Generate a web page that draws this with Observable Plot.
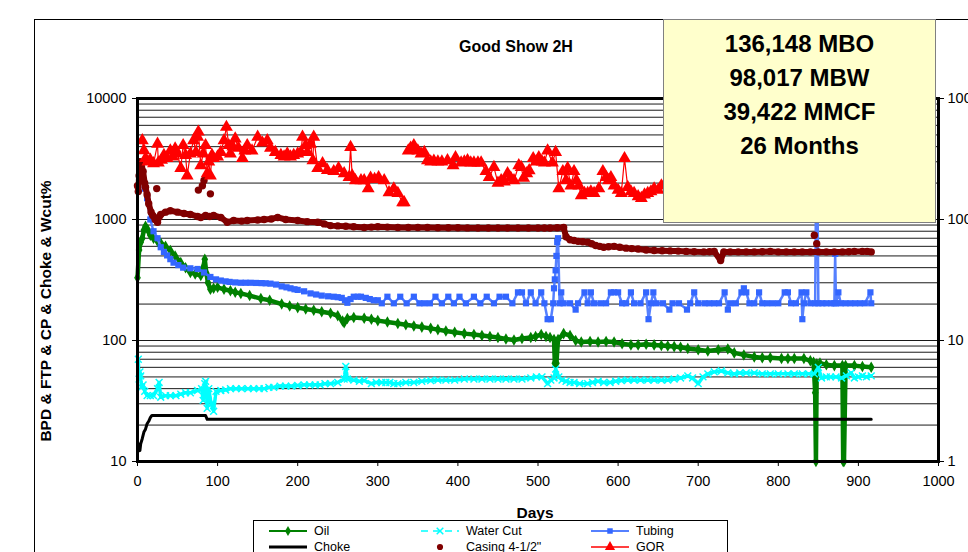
<!DOCTYPE html>
<html><head><meta charset="utf-8">
<script src="https://cdn.jsdelivr.net/npm/d3@7"></script>
<script src="https://cdn.jsdelivr.net/npm/@observablehq/plot@0.6"></script>
<style>
body{margin:0;background:#fff;font-family:"Liberation Sans",Arial,sans-serif;}
#wrap{position:relative;width:968px;height:552px;overflow:hidden;background:#fff;}
#outer{position:absolute;left:34px;top:19px;width:1000px;height:600px;border:1px solid #000;box-sizing:border-box;}
#chart{position:absolute;left:0;top:0;}
.t{position:absolute;font-weight:bold;color:#000;white-space:nowrap;transform:translate(-50%,-50%);}
#box{position:absolute;left:663px;top:19px;width:273px;height:204px;background:#FFFFCC;border:1px solid #808080;box-sizing:border-box;}
#box div{position:absolute;left:50%;transform:translate(-50%,-50%);font-weight:bold;font-size:24px;white-space:nowrap;}
#legend{position:absolute;left:253px;top:520px;width:475px;height:50px;border:1px solid #000;background:#fff;box-sizing:border-box;}
</style></head><body>
<div id="wrap">
<div id="outer"></div>
<div id="chart"></div>
<div class="t" style="left:516px;top:47px;font-size:16px;">Good Show 2H</div>
<div class="t" style="left:535px;top:513px;font-size:15.5px;">Days</div>
<div class="t" style="left:46px;top:311px;font-size:15.5px;transform:translate(-50%,-50%) rotate(-90deg);">BPD &amp; FTP &amp; CP &amp; Choke &amp; Wcut%</div>
<div id="box"></div>
<div id="legend"></div>
</div>
<script>
// ---- data: [day, value] ----
const boxLines = ["136,148 MBO", "98,017 MBW", "39,422 MMCF", "26 Months"];
const yMajor = [10, 100, 1000, 10000];
const yGrid = [20,30,40,50,60,70,80,90,100,200,300,400,500,600,700,800,900,1000,2000,3000,4000,5000,6000,7000,8000,9000];
const xTicks = [0,100,200,300,400,500,600,700,800,900,1000];

const oil = [[0,330],[2,560],[4,650],[6,700],[8,820],[10,880],[13,820],[16,740],[20,700],[25,660],[29,640],[35,600],[41,555],[47,500],[54,440],[60,400],[66,365],[72,355],[79,344],[82,400],[84,470],[86,360],[88,300],[91,265],[95,270],[100,275],[108,265],[116,258],[122,250],[129,245],[140,235],[154,222],[165,215],[180,200],[190,193],[200,187],[210,182],[220,178],[230,173],[241,168],[250,160],[256,145],[258,140],[262,152],[270,155],[283,153],[292,150],[300,146],[312,142],[325,138],[335,135],[345,132],[355,129],[366,126],[375,123],[385,120],[396,117],[408,114],[420,112],[430,110],[440,108],[450,106],[460,103],[470,101],[480,104],[491,106],[497,108],[504,112],[510,108],[515,106],[520,102],[521,65],[523,65],[525,102],[532,114],[540,110],[547,100],[554,97],[565,98],[575,97],[585,98],[595,97],[605,94],[616,92],[625,92],[635,93],[645,92],[654,91],[662,90],[670,89],[678,88],[687,86],[700,84],[712,82],[725,84],[737,85],[745,79],[757,76],[770,73],[780,72],[790,72],[804,71],[812,71],[820,71],[832,71],[840,68],[844,66],[846,37],[847,10],[848,64],[852,65],[860,63],[870,62],[880,62],[881,10],[882,10],[884,62],[895,62],[905,61],[916,60]];

const waterCut = [[1,70],[2,48],[3,55],[4,51],[5,41],[7,43],[9,38],[12,35],[16,35],[20,35],[25,40],[27,45],[29,34],[35,35],[41,35],[48,35],[54,36],[60,37],[66,37],[75,38.6],[80,40],[82,32],[84,44],[85,46],[86,38],[87,27.5],[89,40],[92,30],[95,26],[98,38],[104,38.6],[110,39],[116,40],[123,40],[130,40],[138,40],[145,40],[152,40],[158,40],[164,41],[170,41],[178,42],[185,42],[192,42],[200,42.5],[208,43],[215,43],[222,43],[228,43],[234,44],[241,44],[250,45],[258,48],[260,61],[262,48],[270,47],[277,46],[283,46.7],[292,44],[298,45],[305,45],[310,45],[315,45],[320,44],[325,44],[335,45],[345,45],[355,46],[366,46.7],[375,47],[385,47],[396,47],[408,48],[420,48],[430,48],[440,48],[450,48],[460,48],[470,48],[480,48],[491,49],[498,50],[505,50],[512,44],[516,47],[520,49],[522,58],[526,50],[530,47],[535,46],[540,45],[545,45],[552,44],[562,44],[568,45],[575,46],[582,45],[590,45],[597,46],[604,46.7],[612,47],[620,47],[628,47],[637,47],[645,47],[654,47],[662,47],[670,48],[678,49],[687,51],[693,49],[700,44],[706,50],[712,53],[720,55],[729,56],[737,54],[745,53],[752,54],[760,54],[770,54],[780,53],[790,53],[800,53],[812,53],[820,53],[830,53],[838,53],[845,53],[850,60],[854,49],[860,50],[865,50],[872,50],[879,49],[885,51],[891,54],[895,49],[900,50],[905,51],[910,50],[916,51]];

const tubing = [[6,2500],[9,1800],[12,1500],[16,1000],[20,800],[25,700],[29,590],[33,540],[37,505],[41,470],[45,440],[51,420],[57,400],[66,395],[75,390],[83,365],[91,335],[98,320],[104,313],[110,308],[115,305],[122,302],[129,300],[135,300],[141,300],[148,299],[155,298],[160,297],[166,295],[173,290],[180,280],[186,275],[191,270],[196,265],[200,262],[208,255],[216,245],[223,240],[230,235],[238,232],[245,230],[250,228],[255,225],[259,215],[262,205],[266,220],[270,230],[275,230],[279,230],[285,225],[290,220],[295,215],[300,215],[305,203],[312,230],[320,203],[328,230],[336,203],[345,230],[352,203],[358,203],[365,203],[372,230],[380,203],[388,230],[395,203],[402,230],[410,203],[420,230],[428,203],[436,230],[445,203],[452,230],[460,230],[468,203],[475,250],[480,250],[485,203],[491,250],[497,203],[504,250],[508,203],[512,150],[516,150],[519,203],[520,270],[521,320],[522,380],[523,500],[524,650],[525,700],[527,203],[529,250],[532,203],[540,203],[547,180],[550,203],[558,250],[562,203],[566,250],[570,203],[578,203],[585,203],[591,250],[595,250],[600,250],[605,203],[610,203],[616,250],[620,203],[628,203],[635,250],[638,150],[641,203],[644,250],[648,203],[656,203],[664,180],[668,203],[676,203],[686,180],[690,203],[695,250],[700,203],[708,203],[714,203],[720,203],[726,203],[733,250],[737,180],[740,203],[747,203],[754,250],[757,270],[760,250],[764,203],[770,203],[776,250],[780,203],[786,203],[793,203],[800,203],[808,250],[812,250],[816,203],[822,203],[829,250],[830,150],[832,203],[835,250],[840,203],[846,203],[847,1400],[849,1400],[850,203],[855,203],[860,203],[866,203],[870,203],[871,520],[872,203],[875,250],[878,203],[884,203],[890,203],[896,203],[902,203],[908,203],[915,250],[916,203]];

const choke = [[1,14],[3,12.3],[4,14],[6,15.5],[8,17.5],[10,18.5],[12,20.5],[14,21.5],[16,23],[18,24],[85,24],[87,22.3],[916,22.3]];

const casing = [[0,1900],[1,1700],[2,2300],[3,3000],[5,2700],[7,2500],[9,2000],[10,1850],[12,1600],[14,1350],[17,1150],[19,1080],[22,1000],[25,950],[27,1050],[29,1100],[35,1150],[41,1180],[50,1150],[58,1120],[66,1100],[75,1060],[79,1040],[85,1080],[90,1060],[95,1080],[104,1040],[112,950],[120,980],[130,970],[137,980],[150,990],[158,1000],[167,1010],[175,1040],[185,1000],[200,980],[212,960],[225,950],[233,920],[241,890],[250,885],[260,880],[270,870],[283,860],[292,865],[300,870],[312,865],[325,860],[338,860],[350,860],[362,858],[375,855],[388,855],[400,855],[412,852],[425,850],[438,850],[450,850],[462,850],[475,850],[488,850],[500,850],[508,850],[515,850],[524,855],[532,860],[535,720],[540,680],[545,670],[550,660],[556,655],[562,650],[567,630],[572,610],[577,600],[582,590],[588,595],[595,600],[602,590],[610,580],[617,575],[625,570],[635,560],[645,555],[655,552],[665,550],[675,548],[685,545],[695,542],[707,540],[714,542],[720,545],[728,458],[732,540],[740,540],[750,540],[760,540],[770,540],[780,542],[790,545],[800,540],[810,540],[820,540],[830,540],[840,540],[850,540],[860,540],[870,540],[880,540],[888,542],[895,545],[905,545],[911,545],[916,540]];
const casingOutliers = [[24,1800],[76,1750],[81,1900],[83,2100],[91,1630],[845,740],[848,630]];

const gor = [[6,4500],[8,3720],[10,3200],[13,3000],[16,3100],[20,2900],[25,4200],[26,2950],[30,3100],[33,3400],[37,3200],[41,3700],[44,3300],[47,3850],[50,3500],[54,2650],[57,4100],[60,3400],[62,2300],[66,3500],[70,4500],[73,3600],[75,4800],[76,5300],[79,2800],[82,3500],[85,4100],[87,2400],[89,3000],[91,2300],[93,3400],[95,3200],[100,3300],[104,3600],[108,4500],[111,5800],[114,4100],[116,3500],[119,4000],[122,4650],[126,3900],[131,3200],[134,3700],[137,4100],[143,3700],[150,4800],[156,4300],[162,4500],[166,3900],[172,3600],[179,3400],[183,3300],[187,3500],[191,3300],[195,3400],[200,3500],[204,3600],[206,4800],[210,4100],[212,3600],[216,4200],[219,3070],[220,4800],[225,2650],[231,2900],[237,2550],[245,2500],[251,2650],[258,2400],[264,2230],[266,3950],[268,2300],[272,2100],[279,2100],[283,2100],[288,1800],[291,2200],[296,2150],[301,2230],[308,2100],[314,1670],[320,1800],[325,1650],[331,1380],[333,1380],[335,null],[338,3700],[341,3900],[345,4100],[350,3700],[354,3500],[358,3600],[362,3070],[366,3000],[370,3050],[375,3000],[380,3000],[387,3070],[394,2800],[397,3250],[404,2950],[408,3000],[412,3070],[416,2950],[420,2950],[425,2950],[429,2950],[435,2500],[439,2230],[445,2700],[450,2000],[454,2100],[458,2050],[462,2400],[466,2200],[470,2100],[476,2800],[479,2700],[482,2200],[486,2400],[489,2540],[494,3200],[498,3000],[501,3250],[505,3000],[508,2950],[512,3700],[518,2950],[522,3600],[526,1800],[531,2500],[535,2100],[537,2650],[541,1900],[545,2500],[548,2100],[551,1900],[554,1580],[558,1650],[562,1650],[566,1700],[570,1650],[576,1800],[581,2500],[585,2230],[588,2100],[591,2230],[595,1900],[600,1750],[604,1650],[608,3200],[612,1850],[616,1700],[620,1650],[625,1550],[629,1500],[633,1600],[637,1650],[641,1700],[645,1800],[650,1750],[654,1900],[658,1950],[665,1900],[680,1800],[700,1800]];

// ---- build ----
const rows = a => a.map(([d, v]) => ({d, v}));
const C = {oil:"#008000", wc:"#00FFFF", tub:"#3366FF", tubLine:"#5580FF", choke:"#000000", cas:"#800000", gor:"#FF0000"};

const chart = Plot.plot({
  width: 968, height: 552,
  marginLeft: 137, marginRight: 30, marginTop: 98, marginBottom: 91,
  x: {domain: [0, 1000]},
  y: {type: "log", domain: [10, 10000]},
  style: {fontFamily: "Liberation Sans, Arial, sans-serif", fontSize: "14.5px", color: "#000", background: "transparent"},
  marks: [
    Plot.ruleY(yGrid, {stroke: "#000", strokeWidth: 1, strokeOpacity: 0.9}),
    // Oil
    Plot.line(rows(oil), {x: "d", y: "v", stroke: C.oil, strokeWidth: 4.5, strokeLinejoin: "round"}),
    Plot.dot(rows(oil), {x: "d", y: "v", symbol: "diamond", fill: C.oil, r: 3.5}),
    // Water cut
    Plot.line(rows(waterCut), {x: "d", y: "v", stroke: C.wc, strokeWidth: 3.5, strokeDasharray: "3,1.5"}),
    Plot.dot(rows(waterCut), {x: "d", y: "v", symbol: "times", stroke: C.wc, strokeWidth: 1.5, r: 3.2}),
    // Tubing
    Plot.line(rows(tubing), {x: "d", y: "v", stroke: C.tubLine, strokeWidth: 2.5}),
    Plot.dot(rows(tubing), {x: "d", y: "v", symbol: "square", fill: C.tub, r: 3.5}),
    // Choke
    Plot.line(rows(choke), {x: "d", y: "v", stroke: C.choke, strokeWidth: 3}),
    // Casing
    Plot.line(rows(casing), {x: "d", y: "v", stroke: C.cas, strokeWidth: 6, strokeLinejoin: "round"}),
    Plot.dot(rows(casing), {x: "d", y: "v", fill: C.cas, r: 3.7}),
    Plot.dot(rows(casingOutliers), {x: "d", y: "v", fill: C.cas, r: 3.7}),
    // GOR
    Plot.line(rows(gor), {x: "d", y: "v", stroke: C.gor, strokeWidth: 1.2}),
    Plot.dot(rows(gor).filter(r => r.v != null), {x: "d", y: "v", symbol: "triangle", fill: C.gor, r: 4.8}),
    Plot.frame({stroke: "#000", strokeWidth: 3}),
    Plot.axisY({ticks: yMajor, tickFormat: d => String(d), tickSize: 5, tickPadding: 6, label: null, fontSize: 14.5}),
    Plot.axisY({anchor: "right", ticks: yMajor, tickFormat: d => String(d / 10), tickSize: 5, tickPadding: 4, label: null, fontSize: 14.5}),
    Plot.axisX({ticks: xTicks, tickFormat: d => String(d), tickSize: 5, tickPadding: 9, label: null, fontSize: 14.5})
  ]
});
document.getElementById("chart").appendChild(chart);

// annotation box
const box = document.getElementById("box");
boxLines.forEach((s, i) => {
  const el = document.createElement("div");
  el.textContent = s;
  el.style.top = (24 + i * 34) + "px";
  box.appendChild(el);
});

// legend
const lg = d3.select("#legend").append("svg").attr("width", 473).attr("height", 48)
  .style("font-family", "Liberation Sans, Arial, sans-serif").style("font-size", "12.5px");
const items = [
  {name: "Oil", x: 15, y: 10, line: C.oil, w: 2, sym: d3.symbolDiamond, fill: C.oil},
  {name: "Water Cut", x: 167, y: 10, line: C.wc, w: 1.5, dash: "7,5", sym: d3.symbolTimes, stroke: C.wc},
  {name: "Tubing", x: 337, y: 10, line: C.tubLine, w: 2, sym: d3.symbolSquare, fill: C.tub},
  {name: "Choke", x: 15, y: 26, line: C.choke, w: 3},
  {name: "Casing 4-1/2\"", x: 167, y: 26, sym: d3.symbolCircle, fill: C.cas},
  {name: "GOR", x: 337, y: 26, line: C.gor, w: 1.5, sym: d3.symbolTriangle, fill: C.gor}
];
items.forEach(it => {
  if (it.line) lg.append("line").attr("x1", it.x).attr("x2", it.x + 38).attr("y1", it.y).attr("y2", it.y)
    .attr("stroke", it.line).attr("stroke-width", it.w).attr("stroke-dasharray", it.dash || null);
  if (it.sym) lg.append("path").attr("d", d3.symbol(it.sym, it.sym === d3.symbolTriangle ? 45 : 30)())
    .attr("transform", `translate(${it.x + 19},${it.y})`)
    .attr("fill", it.fill || "none").attr("stroke", it.stroke || null).attr("stroke-width", 1.5);
  lg.append("text").attr("x", it.x + 45).attr("y", it.y).attr("dy", "0.35em").text(it.name);
});
</script>
</body></html>
